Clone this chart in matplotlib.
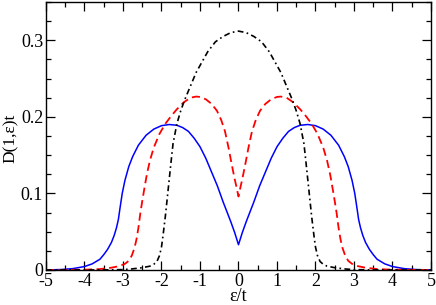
import numpy as np
import matplotlib
matplotlib.use("Agg")
import matplotlib.pyplot as plt
from matplotlib.ticker import MultipleLocator

# curves are symmetric in eps, values read for eps >= 0 and mirrored
eps_blue = [0.0, 0.1, 0.2, 0.3, 0.4, 0.55, 0.7, 0.85, 1.0, 1.15, 1.3, 1.45, 1.6, 1.8,
            2.0, 2.2, 2.4, 2.6, 2.75, 2.85, 2.95, 3.02, 3.08, 3.12, 3.17, 3.23, 3.3,
            3.4, 3.5, 3.6, 3.8, 4.0, 4.3, 4.6, 5.0]
d_blue = [0.033, 0.049, 0.063, 0.076, 0.089, 0.110, 0.128, 0.146, 0.161, 0.172, 0.181,
          0.186, 0.189, 0.190, 0.1885, 0.184, 0.176, 0.163, 0.148, 0.135, 0.117, 0.100,
          0.080, 0.066, 0.055, 0.045, 0.036, 0.027, 0.020, 0.014, 0.008, 0.0045,
          0.0018, 0.0006, 0.0]

eps_red = [0.0, 0.05, 0.1, 0.18, 0.26, 0.35, 0.45, 0.56, 0.7, 0.85, 1.0, 1.1, 1.25,
           1.42, 1.6, 1.75, 1.9, 2.05, 2.2, 2.3, 2.38, 2.45, 2.5, 2.55, 2.6, 2.65,
           2.7, 2.77, 2.85, 2.95, 3.1, 3.3, 3.6, 4.0, 5.0]
d_red = [0.096, 0.108, 0.119, 0.139, 0.160, 0.181, 0.196, 0.208, 0.217, 0.223, 0.226,
         0.2265, 0.225, 0.219, 0.210, 0.201, 0.191, 0.178, 0.160, 0.143, 0.125, 0.105,
         0.090, 0.074, 0.055, 0.040, 0.029, 0.019, 0.012, 0.008, 0.005, 0.003,
         0.0012, 0.0004, 0.0]

eps_black = [0.0, 0.2, 0.4, 0.6, 0.8, 1.0, 1.1, 1.2, 1.3, 1.4, 1.5, 1.6, 1.7, 1.75,
             1.8, 1.85, 1.9, 1.96, 2.0, 2.05, 2.12, 2.2, 2.3, 2.5, 2.8, 3.0, 3.5, 5.0]
d_black = [0.312, 0.310, 0.305, 0.298, 0.285, 0.267, 0.258, 0.246, 0.234, 0.222, 0.208,
           0.191, 0.165, 0.142, 0.118, 0.094, 0.070, 0.045, 0.030, 0.019, 0.011, 0.0075,
           0.005, 0.003, 0.0012, 0.0005, 0.0001, 0.0]

x_ticks = [-5, -4, -3, -2, -1, 0, 1, 2, 3, 4, 5]
y_ticks = [0, 0.1, 0.2, 0.3]
y_tick_labels = ['0', '0.1', '0.2', '0.3']


def mirror(x, y):
    x = np.asarray(x)
    y = np.asarray(y)
    return np.concatenate([-x[::-1], x[1:]]), np.concatenate([y[::-1], y[1:]])


plt.rcParams['font.family'] = ['Liberation Serif', 'DejaVu Serif']

fig = plt.figure(figsize=(4.36, 3.05), dpi=100)
ax = fig.add_axes([0.1055, 0.1148, 0.883, 0.8786])

x, y = mirror(eps_blue, d_blue)
ax.plot(x, y, color='#0000ff', lw=1.1)
x, y = mirror(eps_red, d_red)
ax.plot(x, y, color='#ff0000', lw=1.3, dashes=(4.5, 2.5))
x, y = mirror(eps_black, d_black)
ax.plot(x, y, color='black', lw=1.2, dashes=(3.5, 2, 1, 2))

ax.set_xlim(-5, 5)
ax.set_ylim(0, 0.35)
ax.set_xticks(x_ticks)
ax.set_xticklabels([str(v) for v in x_ticks])
ax.set_yticks(y_ticks)
ax.set_yticklabels(y_tick_labels)
ax.xaxis.set_minor_locator(MultipleLocator(0.5))
ax.yaxis.set_minor_locator(MultipleLocator(0.025))

ax.tick_params(which='both', direction='in', top=True, right=True, labelsize=13, pad=2)
ax.tick_params(which='major', length=6.5, width=0.9)
ax.tick_params(which='minor', length=3.3, width=0.9)
for s in ax.spines.values():
    s.set_linewidth(1.0)

ax.set_xlabel('ε/t', fontsize=13, labelpad=-1)
ax.set_ylabel('D(1,ε)t', fontsize=12.5)
ax.yaxis.set_label_coords(-0.071, 0.49)

fig.savefig('out.png', dpi=100)
